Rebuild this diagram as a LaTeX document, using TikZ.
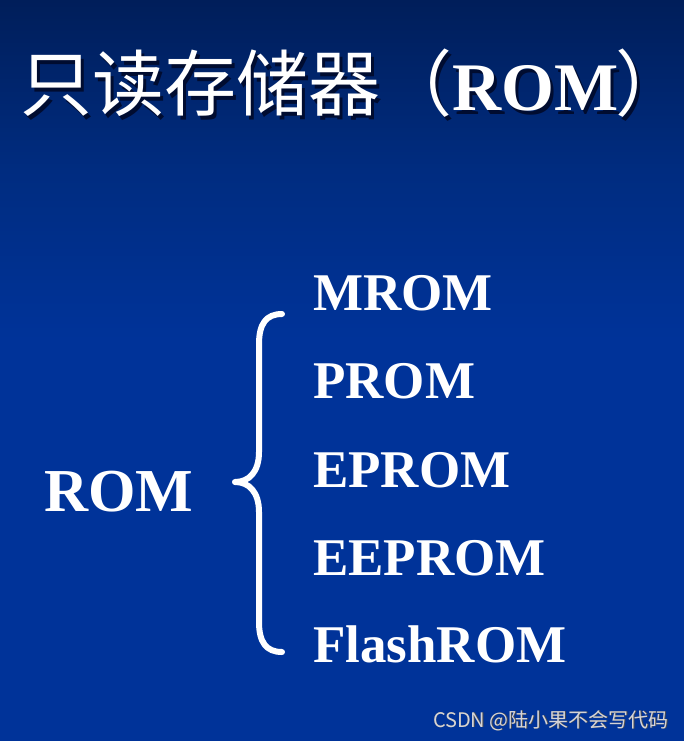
\documentclass[tikz,border=0pt]{standalone}
\usepackage{fontspec}
\setmainfont{Liberation Serif}
\newfontfamily\cjk{Noto Sans CJK SC}
\usetikzlibrary{positioning}
\definecolor{fondoArriba}{HTML}{001E5A}
\definecolor{fondoMedio}{HTML}{002C80}
\definecolor{fondoAbajo}{HTML}{003399}
\definecolor{sombraTitulo}{HTML}{000C30}
\definecolor{grisMarca}{HTML}{D4D4D8}
\newcommand{\tituloROM}{{\cjk\fontsize{72}{72}\selectfont 只读存储器（}{\bfseries\fontsize{68}{68}\selectfont ROM}\kern-3pt{\cjk\fontsize{72}{72}\selectfont\makebox[36pt][l]{）}}}

\begin{document}
\begin{tikzpicture}[x=1pt, y=-1pt,
        titulo/.style={anchor=base west, inner sep=0pt, text=white},
        sombra/.style={anchor=base west, inner sep=0pt, text=sombraTitulo},
        raiz/.style={anchor=base west, inner sep=0pt, text=white, font=\bfseries\fontsize{61}{61}\selectfont},
        tipo/.style={anchor=base west, inner sep=0pt, text=white, font=\bfseries\fontsize{53}{53}\selectfont},
        llave/.style={draw=white, line width=6pt, line cap=round, line join=round},
        marca/.style={anchor=base east, inner sep=0pt, text=grisMarca, font=\cjk\fontsize{20}{20}\selectfont}
    ]
        % fondo
        \useasboundingbox (0,0) rectangle (684,741);
        \shade[top color=fondoArriba, bottom color=fondoAbajo, middle color=fondoMedio] (0,0) rectangle (684,340);
        \fill[fondoAbajo] (0,339) rectangle (684,741);

        % titulo con sombra
        \node[sombra] (tituloSombra) at (23,114) {\tituloROM};
        \node[titulo] (titulo) at (20,111) {\tituloROM};

        % clasificacion
        \node[raiz] (rom) at (44,511) {ROM};
        \node[tipo] (mrom) at (313,310) {MROM};
        \node[tipo] (prom) at (313,398) {PROM};
        \node[tipo] (eprom) at (313,487) {EPROM};
        \node[tipo] (eeprom) at (313,575) {EEPROM};
        \node[tipo] (flash) at (313,662) {FlashROM};

        \draw[llave] (282,314) .. controls (266,314) and (259,324) .. (259,344) -- (259,452)
            .. controls (259,472) and (249,482) .. (235,482)
            .. controls (249,482) and (259,492) .. (259,512) -- (259,622)
            .. controls (259,642) and (266,652) .. (282,652);

        \node[marca, text=black!70] at (669.6,727.6) {CSDN @陆小果不会写代码};
        \node[marca] (marca) at (669,727) {CSDN @陆小果不会写代码};
    \end{tikzpicture}
\end{document}
